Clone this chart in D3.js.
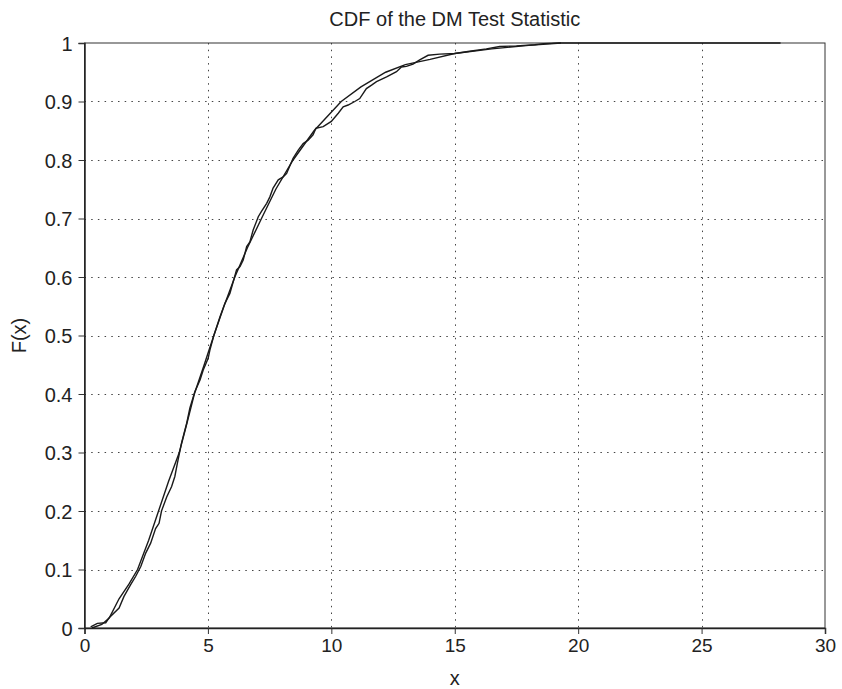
<!DOCTYPE html>
<html>
<head>
<meta charset="utf-8">
<script src="https://cdn.jsdelivr.net/npm/d3@7"></script>
<style>
  body { margin: 0; background: #fff; }
  text { font-family: "Liberation Sans", Arial, sans-serif; fill: #222; }
</style>
</head>
<body>
<div id="chart"></div>
<script>
// tick labels
const xTicks = [0, 5, 10, 15, 20, 25, 30];
const yTicks = [0, 0.1, 0.2, 0.3, 0.4, 0.5, 0.6, 0.7, 0.8, 0.9, 1];

// fitted (smooth) cdf
const fitX = [0.3, 0.7, 1.0, 1.4, 1.8, 2.15, 2.6, 3.0, 3.4, 3.84, 4.15, 4.45, 4.85, 5.24, 5.65, 6.09, 6.6, 7.17, 7.75, 8.45, 9.3, 10.4, 11.2, 12.2, 13.0, 14.0, 15.0, 16.5, 18.0, 19.3, 28.2];
const fitF = [0, 0.006, 0.017, 0.05, 0.075, 0.1, 0.15, 0.2, 0.25, 0.3, 0.35, 0.4, 0.45, 0.5, 0.55, 0.6, 0.65, 0.7, 0.75, 0.8, 0.85, 0.9, 0.925, 0.95, 0.963, 0.972, 0.982, 0.99, 0.996, 1.0, 1.0];

// empirical cdf of the statistic
const empX = [0.25, 0.52, 0.86, 0.99, 1.4, 1.6, 1.87, 2.07, 2.28, 2.48, 2.68, 2.88, 3.02, 3.12, 3.33, 3.53, 3.66, 3.76, 3.93, 4.14, 4.27, 4.47, 4.68, 4.81, 5.01, 5.08, 5.24,
  5.49, 5.69, 5.89, 6.16, 6.3, 6.43, 6.57, 6.7, 6.83, 7.04, 7.17, 7.38, 7.51, 7.64, 7.85, 8.05, 8.19, 8.45, 8.66, 8.86, 9.06, 9.26, 9.37, 9.67, 10.0,
  10.28, 10.48, 10.68, 10.95, 11.15, 11.29, 11.42, 11.63, 11.83, 12.24, 12.64, 12.84, 13.04, 13.31, 13.58, 13.92, 14.39, 15.0, 15.6, 16.28, 16.82, 17.5, 18.24, 18.6, 19.3];
const empF = [0.002, 0.008, 0.009, 0.017, 0.034, 0.054, 0.074, 0.088, 0.105, 0.128, 0.145, 0.17, 0.179, 0.2, 0.224, 0.242, 0.259, 0.281, 0.316, 0.35, 0.376, 0.404, 0.424, 0.441, 0.461, 0.475, 0.5,
  0.532, 0.555, 0.572, 0.612, 0.618, 0.629, 0.652, 0.66, 0.68, 0.703, 0.712, 0.726, 0.737, 0.752, 0.766, 0.771, 0.777, 0.803, 0.817, 0.828, 0.834, 0.843, 0.854, 0.857, 0.866,
  0.88, 0.891, 0.894, 0.9, 0.905, 0.914, 0.922, 0.928, 0.934, 0.942, 0.951, 0.959, 0.96, 0.964, 0.971, 0.979, 0.981, 0.982, 0.986, 0.99, 0.994, 0.995, 0.997, 0.999, 1.0];

const width = 842, height = 689;
const margin = { top: 43, right: 17, bottom: 61, left: 84.5 };

const svg = d3.select("#chart").append("svg")
  .attr("width", width)
  .attr("height", height);

const x = d3.scaleLinear().domain([0, 30]).range([margin.left, width - margin.right]);
const y = d3.scaleLinear().domain([0, 1]).range([height - margin.bottom, margin.top]);

// dotted grid
const grid = svg.append("g").attr("stroke", "#444").attr("stroke-width", 1).attr("stroke-dasharray", "1.5,5.2");
grid.selectAll("line.v").data(xTicks.slice(1, -1)).join("line")
  .attr("x1", d => Math.round(x(d)) + 0.5).attr("x2", d => Math.round(x(d)) + 0.5)
  .attr("y1", y(1)).attr("y2", y(0));
grid.selectAll("line.h").data(yTicks.slice(1, -1)).join("line")
  .attr("y1", d => Math.round(y(d)) + 0.5).attr("y2", d => Math.round(y(d)) + 0.5)
  .attr("x1", x(0)).attr("x2", x(30));

// box
svg.append("rect")
  .attr("x", x(0)).attr("y", y(1))
  .attr("width", x(30) - x(0)).attr("height", y(0) - y(1))
  .attr("fill", "none").attr("stroke", "#333").attr("stroke-width", 1);

const xAxis = svg.append("g")
  .attr("transform", `translate(0,${y(0)})`)
  .call(d3.axisBottom(x).tickValues(xTicks).tickSize(6).tickPadding(5).tickFormat(d3.format("d")));
const yAxis = svg.append("g")
  .attr("transform", `translate(${x(0)},0)`)
  .call(d3.axisLeft(y).tickValues(yTicks).tickSize(6).tickPadding(6).tickFormat(d => d === 0 || d === 1 ? d : d3.format(".1f")(d)));

[xAxis, yAxis].forEach(g => {
  g.select(".domain").attr("stroke", "#222").attr("stroke-width", 1.5);
  g.selectAll(".tick line").attr("stroke", "#333");
  g.selectAll(".tick text").attr("font-family", "Liberation Sans, Arial, sans-serif").attr("fill", "#222");
});
xAxis.selectAll(".tick text").attr("font-size", 19);
yAxis.selectAll(".tick text").attr("font-size", 20).attr("dy", "0.36em");

// curves
const line = d3.line().x(d => x(d[0])).y(d => y(d[1]));
const curves = svg.append("g").attr("fill", "none").attr("stroke", "#1a1a1a").attr("stroke-width", 1.4);
curves.append("path").attr("d", line(fitX.map((v, i) => [v, fitF[i]])));
curves.append("path").attr("d", line(empX.map((v, i) => [v, empF[i]])));

// labels
svg.append("text")
  .attr("x", (x(0) + x(30)) / 2).attr("y", 26)
  .attr("text-anchor", "middle").attr("font-size", 20)
  .text("CDF of the DM Test Statistic");

svg.append("text")
  .attr("x", (x(0) + x(30)) / 2).attr("y", 685)
  .attr("text-anchor", "middle").attr("font-size", 20)
  .text("x");

svg.append("text")
  .attr("transform", `translate(26,${(y(0) + y(1)) / 2}) rotate(-90)`)
  .attr("text-anchor", "middle").attr("font-size", 20)
  .text("F(x)");
</script>
</body>
</html>
